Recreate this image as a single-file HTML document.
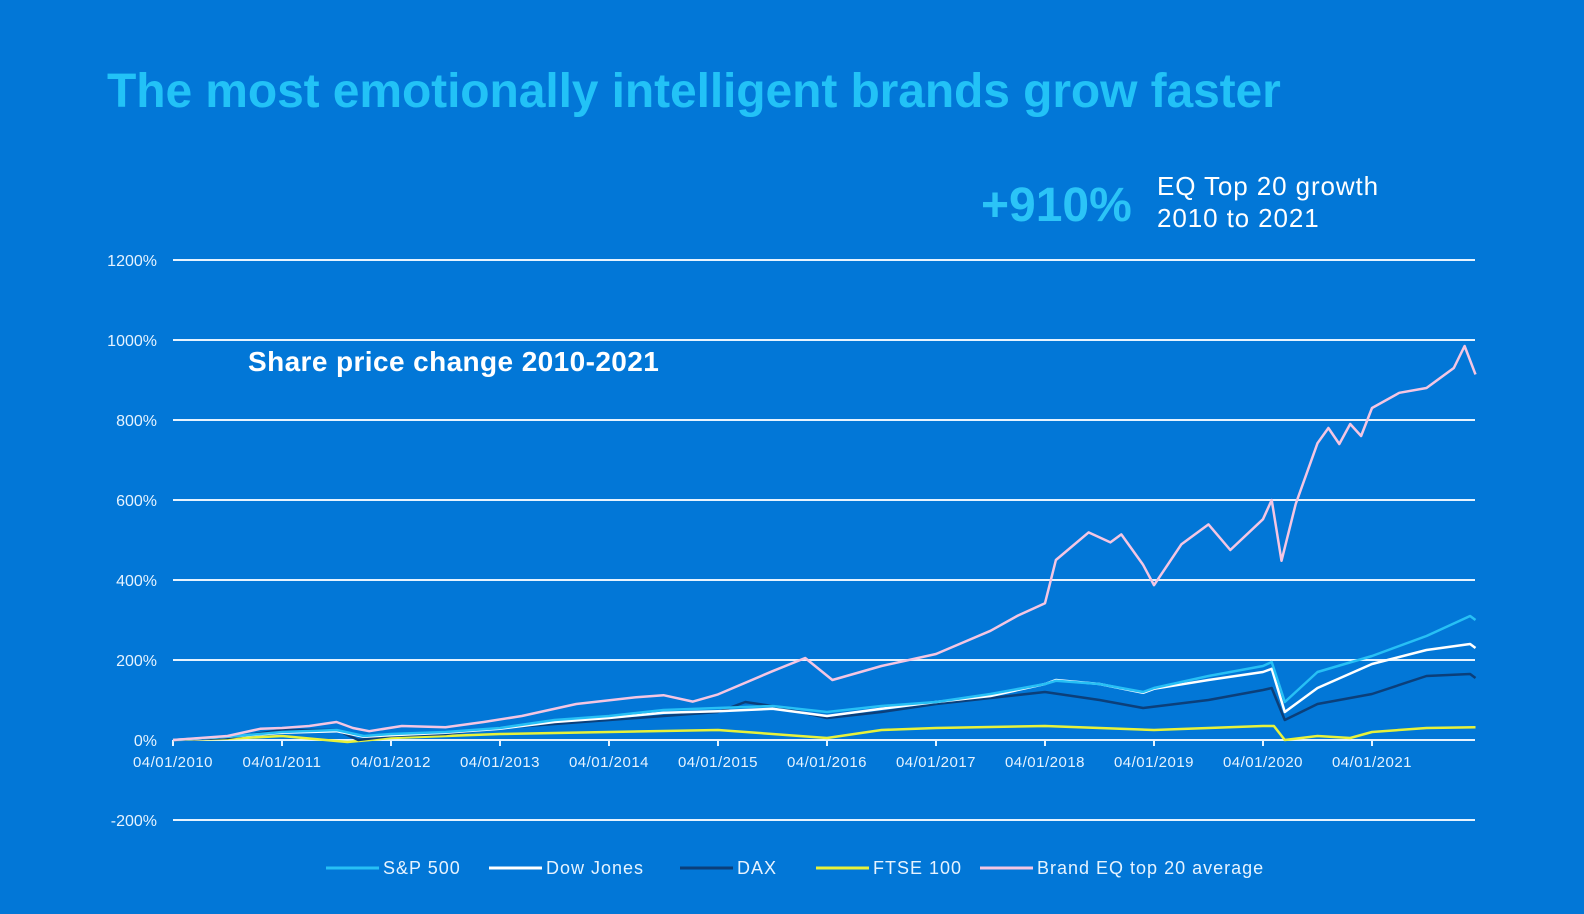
<!DOCTYPE html>
<html><head><meta charset="utf-8">
<style>
html,body{margin:0;padding:0;background:#0277d7;}
body{width:1584px;height:914px;overflow:hidden;position:relative;font-family:"Liberation Sans",sans-serif;}
.t{position:absolute;white-space:nowrap;}
</style></head>
<body>
<div class="t" style="left:107px;top:64px;font-size:48px;font-weight:bold;color:#22c2f7;letter-spacing:-0.1px;">The most emotionally intelligent brands grow faster</div>
<div class="t" style="left:981px;top:178px;font-size:48px;font-weight:bold;color:#2bc4f7;">+910%</div>
<div class="t" style="left:1157px;top:170px;font-size:26px;line-height:32px;color:#fff;letter-spacing:0.9px;">EQ Top 20 growth<br>2010 to 2021</div>
<div class="t" style="left:248px;top:346px;font-size:28px;font-weight:bold;color:#fff;letter-spacing:0.4px;">Share price change 2010-2021</div>
<svg id="chart" width="1584" height="914" style="position:absolute;left:0;top:0;"></svg>
<script>
const yTicks=[1200,1000,800,600,400,200,0,-200];
const yearLabels=["04/01/2010","04/01/2011","04/01/2012","04/01/2013","04/01/2014","04/01/2015","04/01/2016","04/01/2017","04/01/2018","04/01/2019","04/01/2020","04/01/2021"];
const seriesNames=["S&P 500","Dow Jones","DAX","FTSE 100","Brand EQ top 20 average"];
const spT=[0,0.5,1,1.5,1.75,2,2.5,3,3.5,4,4.5,5,5.5,6,6.5,7,7.5,8,8.1,8.5,8.9,9,9.5,10,10.08,10.2,10.5,11,11.5,11.9,11.95];
const spV=[0,8,20,25,10,15,20,30,50,60,75,80,85,70,85,95,115,140,148,140,120,130,160,185,195,95,170,210,260,310,300];
const djT=[0,0.5,1,1.5,1.75,2,2.5,3,3.5,4,4.5,5,5.5,6,6.5,7,7.5,8,8.1,8.5,8.9,9,9.5,10,10.08,10.2,10.5,11,11.5,11.9,11.95];
const djV=[0,8,18,22,8,12,18,28,45,55,68,72,78,60,78,95,110,140,150,140,118,128,150,170,178,70,130,190,225,240,230];
const daxT=[0,0.5,1,1.5,1.7,2,2.5,3,3.5,4,4.5,5,5.25,5.5,6,6.5,7,7.5,8,8.5,8.9,9.5,10,10.08,10.2,10.5,11,11.5,11.9,11.95];
const daxV=[0,5,25,25,0,10,15,30,40,50,60,70,95,85,55,70,90,105,120,100,80,100,125,130,50,90,115,160,165,155];
const ftT=[0,0.5,1,1.6,2,3,4,5,5.5,6,6.5,7,8,8.5,9,9.5,10,10.1,10.2,10.5,10.8,11,11.5,11.95];
const ftV=[0,3,10,-5,5,15,20,25,15,5,25,30,35,30,25,30,35,35,0,10,5,20,30,32];
const brT=[0,0.25,0.5,0.8,1,1.25,1.5,1.65,1.8,2.1,2.5,2.85,3.2,3.7,4.25,4.5,4.77,5,5.5,5.8,6.05,6.5,7,7.5,7.75,8,8.1,8.4,8.6,8.7,8.9,9,9.25,9.5,9.7,10,10.08,10.17,10.3,10.5,10.6,10.7,10.8,10.9,11,11.25,11.5,11.75,11.85,11.95];
const brV=[0,5,10,28,30,35,45,30,22,35,32,45,60,90,107,112,96,114,172,205,150,185,215,273,311,342,450,519,494,514,438,387,489,539,475,552,600,448,590,742,780,740,790,760,830,868,880,930,985,914];
const colors=["#27c0f5","#ffffff","#0b3f7a","#e8f23a","#f4c6e3"];
const X0=173,PX_YEAR=109,Y0=740,PX_PCT=0.4;
const xs=t=>X0+t*PX_YEAR, ys=v=>Y0-v*PX_PCT;
const svg=document.getElementById('chart');
const NS="http://www.w3.org/2000/svg";
function mk(tag,attrs,txt){const e=document.createElementNS(NS,tag);for(const k in attrs)e.setAttribute(k,attrs[k]);if(txt!=null)e.textContent=txt;svg.appendChild(e);return e;}
yTicks.forEach(v=>{
  const g=mk('line',{x1:X0,x2:1475,y1:ys(v),y2:ys(v),stroke:"#e6f3ff","stroke-width":2});
  
  
  const l=mk('text',{x:157,y:ys(v)+6,"text-anchor":"end","font-size":16,fill:"#e6f3ff","font-family":"Liberation Sans, sans-serif"},v+"%");
  
  
});
yearLabels.forEach((s,i)=>{
  const tk=mk('line',{x1:xs(i),x2:xs(i),y1:Y0,y2:Y0+6,stroke:"#e6f3ff","stroke-width":2});
  
  
  const l=mk('text',{x:xs(i),y:Y0+27,"text-anchor":"middle","font-size":15,fill:"#e6f3ff","font-family":"Liberation Sans, sans-serif","letter-spacing":"0.5"},s);
  
  
});
const data=[[spT,spV],[djT,djV],[daxT,daxV],[ftT,ftV],[brT,brV]];
const order=[3,2,1,0,4];
order.forEach(i=>{
  const [T,V]=data[i];
  const d=T.map((t,j)=>(j?"L":"M")+xs(t).toFixed(1)+","+ys(V[j]).toFixed(1)).join("");
  const p=mk('path',{d:d,fill:"none",stroke:colors[i],"stroke-width":2.5,"stroke-linejoin":"round"});
  
  
});
const legX=[326,489,680,816,980];
seriesNames.forEach((n,i)=>{
  const ln=mk('line',{x1:legX[i],x2:legX[i]+53,y1:868,y2:868,stroke:colors[i],"stroke-width":3});
  
  
  const tx=mk('text',{x:legX[i]+57,y:874,"font-size":18,fill:"#e6f3ff","font-family":"Liberation Sans, sans-serif","letter-spacing":"1"},n);
  
  
});
</script>
</body></html>
